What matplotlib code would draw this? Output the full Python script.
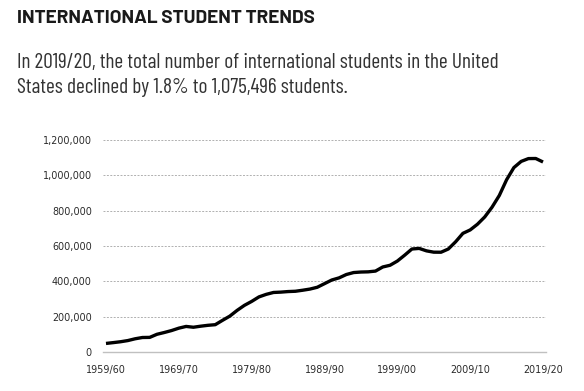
import matplotlib
matplotlib.use("Agg")
import matplotlib.pyplot as plt
from matplotlib.ticker import FuncFormatter

years = [f"{y}/{str(y+1)[-2:]}" for y in range(1959, 2020)]
students = [48486, 53107, 58086, 64705, 74814, 82045, 82709, 100262, 110315, 121362,
            134959, 144708, 140126, 146097, 151066, 154580, 179344, 203068, 235509, 263938,
            286343, 311882, 326299, 336985, 338894, 342113, 343777, 349609, 356187, 366354,
            386851, 407529, 419585, 438618, 449749, 452635, 453787, 457984, 481280, 490933,
            514723, 547867, 582996, 586323, 572509, 565039, 564766, 582984, 623805, 671616,
            690923, 723277, 764495, 819644, 886052, 974926, 1043839, 1078822, 1094792, 1095299,
            1075496]
xtick_labels = ["1959/60", "1969/70", "1979/80", "1989/90", "1999/00", "2009/10", "2019/20"]
yticks = [0, 200000, 400000, 600000, 800000, 1000000, 1200000]

title = "INTERNATIONAL STUDENT TRENDS"
sub_lines = ["In 2019/20, the total number of international students in the United",
             "States declined by 1.8% to 1,075,496 students."]

W, H = 584, 391
fig = plt.figure(figsize=(W/100, H/100), dpi=100)
ax = fig.add_axes([103/W, (H-352)/H, (546-103)/W, (352-140)/H])

x = list(range(len(students)))
ax.plot(x, students, color="black", lw=2.4, solid_capstyle="butt", solid_joinstyle="round", zorder=3)

ax.set_ylim(0, 1200000)
ax.set_xlim(-0.41, len(students) - 1 + 0.41)
ax.set_yticks(yticks)
ax.yaxis.set_major_formatter(FuncFormatter(lambda v, p: f"{int(v):,}"))
ax.set_xticks([years.index(l) for l in xtick_labels])
ax.set_xticklabels(xtick_labels)

ax.grid(axis="y", color="#b0b0b0", linestyle=(0, (2, 1.5)), linewidth=0.7)
ax.set_axisbelow(True)
for s in ["top", "right", "left"]:
    ax.spines[s].set_visible(False)
ax.spines["bottom"].set_color("#c0c0c0")
ax.spines["bottom"].set_linewidth(1.0)
ax.tick_params(axis="both", length=0, labelsize=6.9, colors="#2a2a2a")
ax.tick_params(axis="y", pad=8)
ax.tick_params(axis="x", pad=9.5)
ax.get_ygridlines()[0].set_visible(False)

renderer = fig.canvas.get_renderer()

def fit(t, target_w):
    bb = t.get_window_extent(renderer)
    t.set_fontsize(t.get_fontsize() * target_w / bb.width)

t1 = fig.text(17/W, 1 - 23/H, title, fontsize=12, fontweight="bold", family="Barlow",
              color="#1a1a1a", va="baseline", ha="left")
fit(t1, 298)

s1 = fig.text(17/W, 1 - 68/H, sub_lines[0], fontsize=14, fontweight="normal",
              family="Barlow Condensed", color="#333333", va="baseline", ha="left")
fit(s1, 483)
s2 = fig.text(17/W, 1 - 93/H, sub_lines[1], fontsize=s1.get_fontsize(), fontweight="normal",
              family="Barlow Condensed", color="#333333", va="baseline", ha="left")

fig.savefig("out.png", dpi=100)
